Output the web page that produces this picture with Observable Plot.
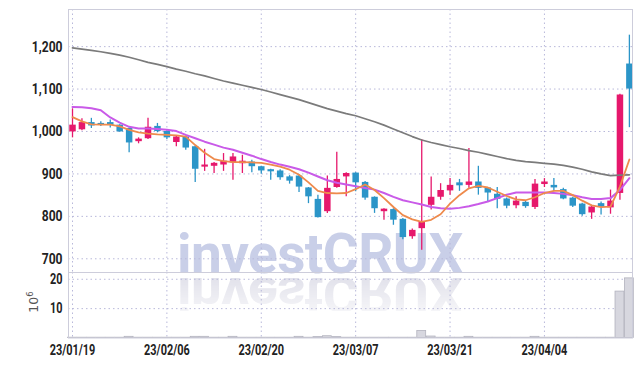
<!DOCTYPE html>
<html><head><meta charset="utf-8">
<script src="https://cdn.jsdelivr.net/npm/d3@7"></script>
<script src="https://cdn.jsdelivr.net/npm/@observablehq/plot@0.6"></script>
<style>
body{margin:0;background:#fff;}
#wrap{position:relative;width:642px;height:366px;overflow:hidden;background:#fff;}
#wrap svg{position:absolute;left:0;}
.wm{position:absolute;left:177px;top:236px;font-family:Roboto,"Open Sans",sans-serif;font-weight:700;font-size:55px;line-height:36px;height:36px;white-space:nowrap;letter-spacing:-0.6px;}
#wm1{color:#c9cfe8;}
#wm2{top:240px;color:#e2e2eb;transform-origin:0 37px;transform:scaleY(-0.92);
  -webkit-mask-image:linear-gradient(to top, rgba(0,0,0,0.95) 10%, rgba(0,0,0,0.35) 100%);
  mask-image:linear-gradient(to top, rgba(0,0,0,0.95) 10%, rgba(0,0,0,0.35) 100%);}
#vlab{position:absolute;left:33px;top:302px;transform:translate(-50%,-50%) rotate(-90deg);font-family:"DejaVu Sans",sans-serif;font-size:12.5px;color:#555;white-space:nowrap;}
#vlab sup{font-size:8.5px;}
</style>
</head><body>
<div id="wrap">
  <div class="wm" id="wm2">investCRUX</div>
  <div class="wm" id="wm1">investCRUX</div>
  <div id="vlab">10<sup>6</sup></div>
</div>
<script>
const dates = ["23/01/19","23/01/20","23/01/25","23/01/26","23/01/27","23/01/30","23/01/31","23/02/01","23/02/02","23/02/03",
"23/02/06","23/02/07","23/02/08","23/02/09","23/02/10","23/02/13","23/02/14","23/02/15","23/02/16","23/02/17",
"23/02/20","23/02/21","23/02/22","23/02/23","23/02/24","23/02/27","23/02/28","23/03/02","23/03/03","23/03/06",
"23/03/07","23/03/08","23/03/09","23/03/10","23/03/13","23/03/14","23/03/15","23/03/16","23/03/17","23/03/20",
"23/03/21","23/03/22","23/03/23","23/03/24","23/03/27","23/03/28","23/03/29","23/03/30","23/03/31","23/04/03",
"23/04/04","23/04/05","23/04/06","23/04/07","23/04/10","23/04/11","23/04/12","23/04/13","23/04/14","23/04/17"];
const open  = [999,1004,1021,1019,1021,1015,1007,976,983,1012, 1000,974,987,964,916,918,921,926,924,928, 917,910,907,893,895,867,840,811,868,893, 902,880,845,811,816,793,752,771,826,845, 860,879,873,881,867,852,841,825,833,821, 875,873,863,843,829,808,830,820,854,1159];
const high  = [1053,1030,1031,1023,1027,1016,1008,985,1031,1019, 1002,988,989,966,958,927,948,948,944,932, 918,911,910,896,898,868,850,895,951,903, 903,882,846,818,818,795,770,981,893,877, 889,887,960,918,868,868,843,846,835,887, 889,889,866,845,831,826,834,862,1088,1227];
const low   = [985,1002,1007,1012,1008,998,950,971,981,997, 981,964,956,880,906,901,906,885,901,903, 899,885,885,876,856,830,796,807,866,846, 858,838,807,791,779,745,746,720,815,838, 850,859,866,850,834,818,818,818,819,816, 868,858,839,821,800,793,803,805,838,1009];
const close = [1015,1021,1013,1015,1014,999,973,982,1010,1000, 985,987,961,911,921,925,930,940,930,917, 907,905,891,883,869,846,797,866,887,901, 879,843,818,817,791,750,767,787,845,861, 873,872,881,866,855,840,824,836,823,876, 881,867,841,824,804,822,821,836,1086,1100];
const volume = [0.1,0.1,0.1,0.1,0.1,0.1,0.4,0.1,0.1,0.1, 0.1,0.1,0.1,0.4,0.4,0.1,0.1,0.4,0.1,0.1, 0.1,0.1,0.1,0.1,0.4,0.1,0.3,0.6,0.3,0.1, 0.1,0.1,0.1,0.1,0.1,0.1,0.1,2.4,0.5,0.1, 0.1,0.1,0.4,0.1,0.1,0.1,0.1,0.1,0.1,0.4, 0.1,0.1,0.1,0.1,0.1,0.1,0.1,0.1,15.8,20.3];
const maShort = [1034,1024,1017,1016,1016,1012,1004,998,995,993, 992,991,988,968,950,935,930,928,928,927, 926,922,917,910,898,880,860,855,854,855, 864,875,862,843,822,803,793,787,792,805, 830,850,866,872,868,858,848,840,838,845, 855,860,860,850,837,826,822,823,870,934];
const maMid = [1058,1057,1055,1050,1033,1021,1011,1007,1007,1006, 1004,1001,992,984,976,969,962,957,950,943, 935,928,922,917,911,903,894,885,879,875, 871,867,863,855,846,838,833,828,822,819, 818,820,824,829,835,843,851,856,856,856, 856,855,853,850,845,841,841,843,862,890];
const maLong = [1197,1194,1191,1188,1184,1180,1175,1169,1163,1158, 1153,1147,1142,1136,1131,1125,1119,1114,1109,1104, 1099,1093,1087,1081,1075,1068,1061,1054,1048,1042, 1037,1030,1023,1015,1006,997,988,980,974,969, 964,960,955,951,946,941,936,932,929,927, 925,923,920,916,911,905,900,896,897,898];
const priceTicks = [700,800,900,1000,1100,1200];
const volTicks = [10,20];
const dateTickIdx = [0,10,20,30,40,50];

const rows = dates.map((d,i)=>({i, o:open[i], h:high[i], l:low[i], c:close[i], v:volume[i],
  ms:maShort[i], mm:maMid[i], ml:maLong[i]}));
const RED = "#e6186c", BLUE = "#2b95c8";
const col = d => d.c >= d.o ? RED : BLUE;
const grid = {stroke:"#b8b8da", strokeDasharray:"1.5,3", strokeWidth:1};
const FONT = "Roboto,'Open Sans',sans-serif";
const xdom = [-0.424, 59.33];

const price = Plot.plot({
  width:642, height:272, marginTop:9, marginBottom:0, marginLeft:68, marginRight:10,
  style:{background:"transparent", fontFamily:FONT, fontSize:"15.5px", fontWeight:"bold", color:"#222"},
  x:{domain:xdom, axis:null},
  y:{domain:[667.7,1287.5], ticks:priceTicks, tickSize:0, tickPadding:6, tickFormat:d3.format(","), label:null},
  marks:[
    Plot.ruleY(priceTicks, grid),
    Plot.ruleX(dateTickIdx, grid),
    Plot.ruleX(rows, {x:"i", y1:"l", y2:"h", stroke:col, strokeWidth:1.3}),
    Plot.ruleX(rows, {x:"i", y1:"o", y2:"c", stroke:col, strokeWidth:6.5}),
    Plot.line(rows, {x:"i", y:"ml", stroke:"#7b7b7b", strokeWidth:1.7}),
    Plot.line(rows, {x:"i", y:"mm", stroke:"#c95ae8", strokeWidth:2}),
    Plot.line(rows, {x:"i", y:"ms", stroke:"#ee8a4c", strokeWidth:1.8}),
    Plot.frame({stroke:"#cdcddb"})
  ]
});
price.style.top = "0px";

const vol = Plot.plot({
  width:642, height:94, marginTop:0, marginBottom:28.5, marginLeft:68, marginRight:10,
  style:{background:"transparent", fontFamily:FONT, fontSize:"14px", fontWeight:"bold", color:"#222"},
  x:{domain:xdom, ticks:dateTickIdx, tickFormat:i=>dates[i], tickSize:0, tickPadding:7, label:null},
  y:{domain:[0,22.3], ticks:volTicks, tickSize:0, tickPadding:6, label:null},
  marks:[
    Plot.ruleY(volTicks, grid),
    Plot.ruleX(dateTickIdx, grid),
    Plot.rect(rows, {x1:d=>d.i-0.47, x2:d=>d.i+0.47, y1:0, y2:"v", fill:"#d7d7df", stroke:"#b2b2be", strokeWidth:0.8}),
    Plot.frame({stroke:"#cdcddb"})
  ]
});
vol.style.top = "272px";

const wrap = document.getElementById("wrap");
wrap.appendChild(price);
wrap.appendChild(vol);

// condense the tick label glyphs (the reference uses a narrow face)
for (const svg of [price, vol]) {
  svg.querySelectorAll("text").forEach(t => {
    const len = t.getComputedTextLength();
    if (len > 0) {
      t.setAttribute("textLength", (len * 0.78).toFixed(1));
      t.setAttribute("lengthAdjust", "spacingAndGlyphs");
    }
  });
}
</script>
</body></html>
